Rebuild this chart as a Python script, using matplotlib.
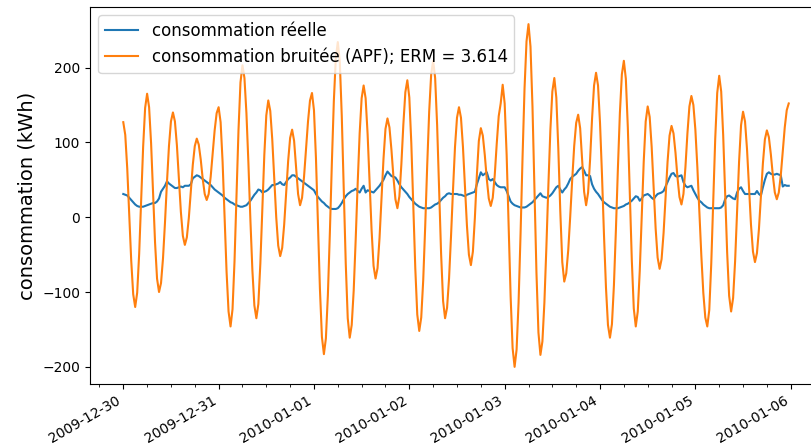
import matplotlib
matplotlib.use("Agg")
import matplotlib.pyplot as plt
import matplotlib.dates as mdates
import pandas as pd

# half-hourly timestamps starting 2009-12-30 00:00
start = "2009-12-30 00:00"
n_points = 336
freq = "30min"

# actual consumption (kWh)
reelle = [
    31, 30, 29, 26, 23, 20, 17, 15, 14, 14, 14, 15, 16, 17, 18, 19, 19, 21, 25, 34,
    38, 42, 48, 45, 43, 41, 39, 39, 40, 41, 40, 42, 42, 42, 44, 52, 54, 56, 55, 53,
    51, 49, 47, 45, 43, 40, 37, 35, 33, 31, 29, 26, 24, 22, 20, 19, 17, 16, 15, 14,
    14, 15, 16, 19, 22, 26, 30, 33, 37, 36, 33, 34, 35, 37, 40, 43, 43, 44, 45, 47,
    44, 43, 47, 51, 53, 56, 56, 54, 52, 50, 48, 46, 44, 42, 40, 38, 36, 31, 27, 24,
    21, 19, 16, 14, 12, 11, 11, 11, 12, 15, 19, 24, 28, 31, 33, 35, 36, 38, 35, 33,
    38, 42, 33, 36, 35, 34, 33, 36, 39, 42, 46, 50, 56, 61, 58, 55, 54, 53, 49, 44,
    40, 37, 34, 31, 27, 24, 21, 18, 16, 14, 13, 12, 12, 12, 12, 13, 15, 17, 18, 20,
    23, 26, 28, 31, 32, 31, 31, 31, 31, 30, 30, 29, 28, 30, 31, 32, 33, 34, 44, 52,
    60, 56, 58, 60, 51, 49, 51, 47, 43, 41, 40, 40, 40, 35, 28, 21, 18, 16, 15, 14,
    13, 13, 13, 14, 16, 18, 20, 23, 26, 29, 32, 28, 27, 26, 27, 29, 32, 36, 40, 42,
    37, 33, 37, 40, 45, 51, 54, 56, 58, 62, 65, 67, 62, 56, 56, 55, 44, 38, 34, 31,
    27, 23, 20, 18, 16, 14, 13, 12, 12, 12, 13, 14, 15, 17, 18, 20, 22, 25, 28, 27,
    22, 25, 29, 30, 31, 29, 26, 24, 28, 31, 32, 33, 35, 41, 47, 53, 58, 59, 55, 54,
    55, 56, 47, 42, 40, 41, 42, 36, 31, 26, 22, 20, 17, 15, 13, 12, 12, 12, 12, 12,
    12, 13, 16, 24, 28, 29, 27, 25, 24, 33, 38, 40, 35, 31, 31, 31, 31, 31, 31, 35,
    31, 29, 40, 50, 58, 60, 58, 57, 57, 58, 57, 56, 41, 43, 42, 42,
]

# noisy consumption (APF)
bruitee = [
    127, 110, 65, 4, -58, -103,
    -120, -101, -49, 22, 94, 146,
    165, 147, 99, 32, -34, -82,
    -100, -88, -55, -7, 47, 95, 128,
    140, 128, 96, 52, 7, -25,
    -37, -27, -1, 34, 70, 95,
    105, 97, 77, 51, 31,
    23, 31, 54, 85, 116, 139,
    147, 127, 74, 0, -73, -126,
    -146, -123, -59, 28, 116, 180,
    203, 186, 139, 72, -4, -71, -118,
    -135, -116, -62, 10, 83, 136,
    156, 142, 104, 52, 0, -38,
    -52, -41, -10, 32, 75, 106,
    117, 102, 66, 31,
    16, 26, 54, 91, 128, 156,
    166, 143, 79, -8, -96, -160,
    -183, -162, -104, -21, 72, 155, 213,
    234, 208, 135, 36, -62, -135,
    -161, -144, -98, -30, 45, 112, 159,
    176, 159, 111, 47, -17, -65,
    -82, -68, -28, 25, 78, 118,
    132, 120, 90, 54, 24,
    12, 28, 71, 124, 167,
    183, 160, 99, 16, -68, -130,
    -152, -134, -84, -12, 69, 141, 191,
    209, 186, 123, 37, -49, -112,
    -135, -121, -82, -25, 37, 94, 133,
    147, 133, 94, 42, -11, -50,
    -64, -46, -1, 56, 102,
    119, 109, 83, 51, 25,
    15, 26, 56, 98, 135, 152,
    177, 152, 83, -12, -106, -175,
    -200, -177, -114, -22, 80, 172, 235,
    258, 228, 148, 37, -74, -154,
    -184, -166, -114, -40, 42, 116, 168,
    186, 160, 92, 8, -60,
    -86, -75, -44, 1, 50, 95, 126,
    137, 119, 76, 34,
    16, 33, 77, 132, 176,
    193, 176, 126, 56, -24, -94, -144,
    -161, -143, -91, -17, 65, 139, 191,
    209, 185, 120, 32, -57, -122,
    -146, -126, -72, 1, 74, 128,
    148, 134, 94, 40, -15, -54,
    -69, -56, -21, 26, 74, 109,
    122, 112, 86, 53, 27,
    17, 31, 67, 112, 148,
    162, 150, 117, 67, 8, -51, -101, -134,
    -146, -124, -62, 22, 105, 166,
    189, 168, 110, 32, -47, -105,
    -126, -108, -59, 8, 74, 123,
    141, 128, 91, 40, -10, -46,
    -60, -48, -16, 28, 72, 104,
    116, 107, 84, 56, 33,
    24, 33, 56, 88, 120, 143,
    152,
]

label_reelle = "consommation réelle"
label_bruitee = "consommation bruitée (APF); ERM = 3.614"
ylabel = "consommation (kWh)"

times = pd.date_range(start, periods=n_points, freq=freq)

fig = plt.figure(figsize=(8.11, 4.45), dpi=100)
ax = fig.add_axes([90 / 811, 1 - 384 / 445, 732 / 811, 377 / 445])

ax.plot(times, reelle, color="C0", lw=1.5, label=label_reelle)
ax.plot(times, bruitee, color="C1", lw=1.5, label=label_bruitee)

ax.xaxis.set_major_locator(mdates.DayLocator())
ax.xaxis.set_major_formatter(mdates.DateFormatter("%Y-%m-%d"))
ax.xaxis.set_minor_locator(mdates.HourLocator(byhour=[6, 12, 18]))
for lbl in ax.get_xticklabels():
    lbl.set_rotation(30)
    lbl.set_ha("right")

ax.set_ylabel(ylabel, fontsize=14)
ax.legend(loc="upper left", fontsize=12)

fig.savefig("out.png", dpi=100)
